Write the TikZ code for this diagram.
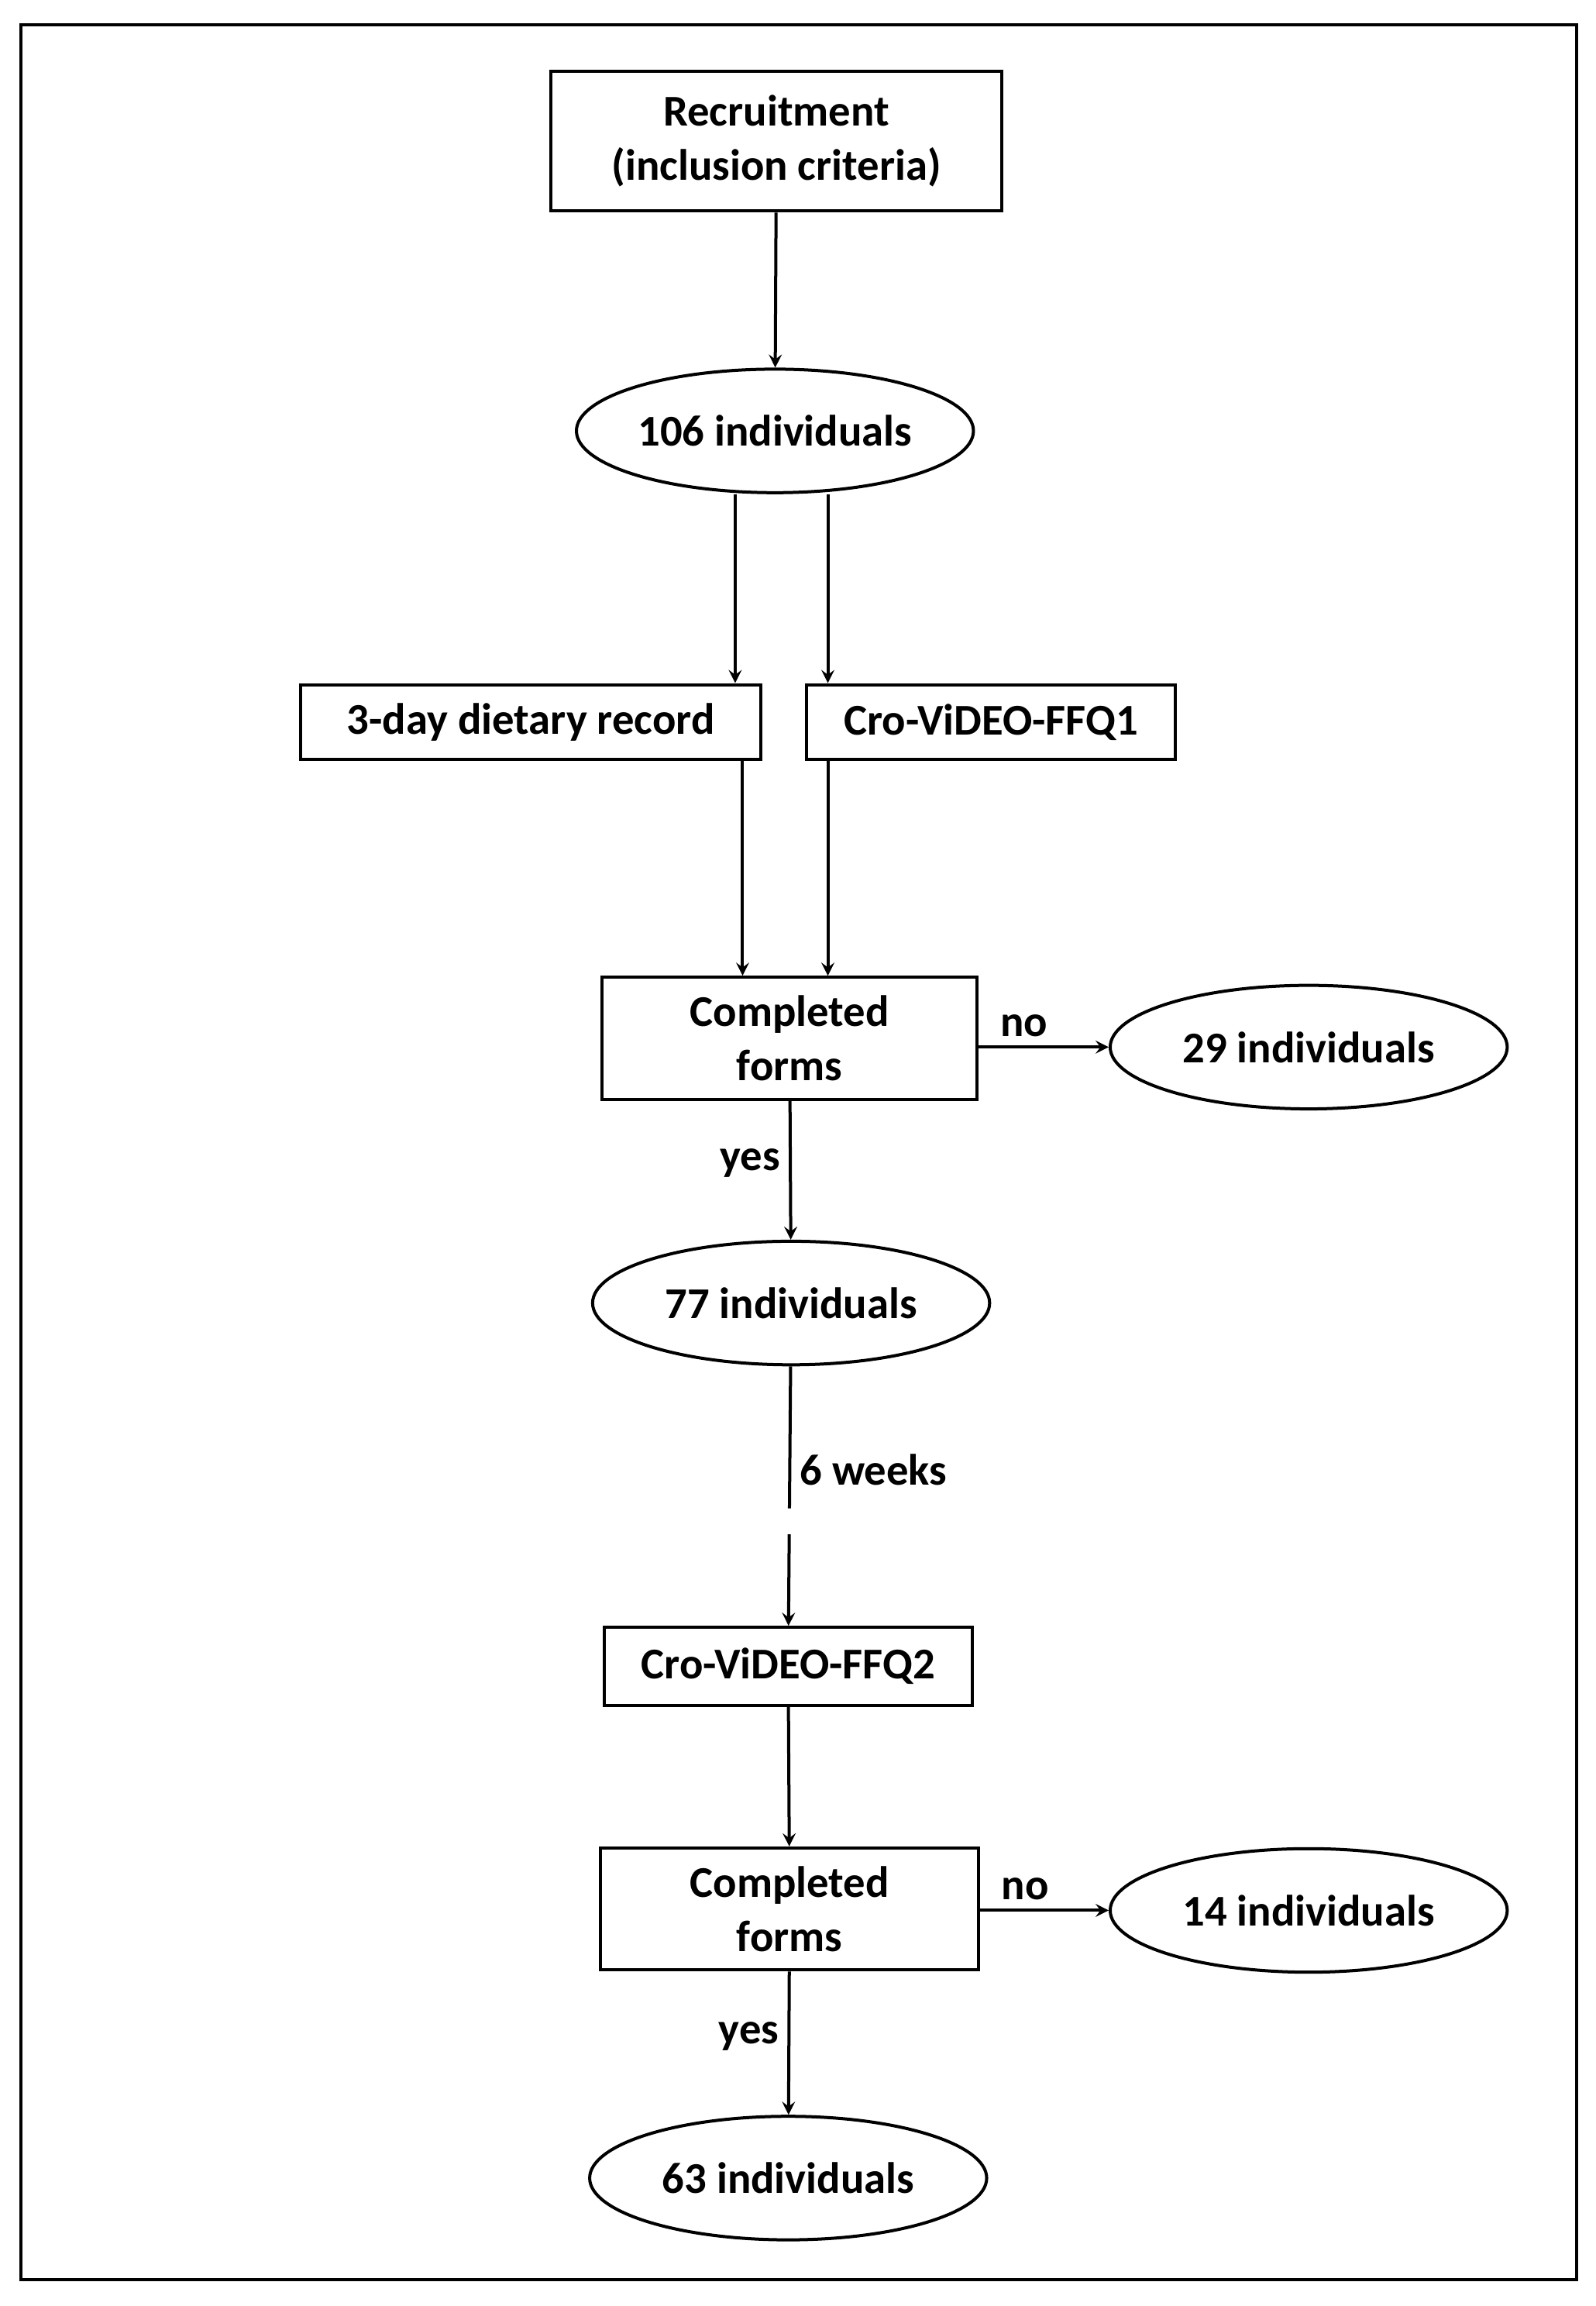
\documentclass[tikz,border=0pt]{standalone}
\usepackage{fontspec}
\setmainfont{Carlito}
\usetikzlibrary{shapes.geometric}
\begin{document}
\begin{tikzpicture}[x=0.02cm, y=-0.02cm, font=\fontsize{17}{21}\selectfont\bfseries]

\useasboundingbox (0,0) rectangle (1085,1568);
\draw[very thick] (14,17) rectangle (1072,1550);

\tikzset{box/.style={draw, very thick, rectangle, align=center, inner sep=0pt}}
\tikzset{oval/.style={draw, very thick, ellipse, minimum width=270*0.02cm, minimum height=84*0.02cm, inner sep=0pt}}
\node[box, minimum width=307*0.02cm, minimum height=95*0.02cm] (recr) at (528,96) {Recruitment\\(inclusion criteria)};
\node[oval] (i106) at (527,293) {106 individuals};
\node[box, minimum width=313*0.02cm, minimum height=51*0.02cm] (rec) at (361,491) {3-day dietary record};
\node[box, minimum width=251*0.02cm, minimum height=51*0.02cm] (ffq1) at (674,491) {Cro-ViDEO-FFQ1};
\node[box, minimum width=255*0.02cm, minimum height=83*0.02cm] (comp1) at (537,706) {Completed\\forms};
\node[oval] (i29) at (890,712) {29 individuals};
\node[oval] (i77) at (538,886) {77 individuals};
\node[box, minimum width=250*0.02cm, minimum height=53*0.02cm] (ffq2) at (536,1133) {Cro-ViDEO-FFQ2};
\node[box, minimum width=257*0.02cm, minimum height=83*0.02cm] (comp2) at (537,1298) {Completed\\forms};
\node[oval] (i14) at (890,1299) {14 individuals};
\node[oval] (i63) at (536,1481) {63 individuals};

\coordinate (a1) at (500,0);
\coordinate (a2) at (563,0);
\coordinate (b1) at (505,0);

\tikzset{mystyle/.style={->, >=stealth, very thick}}
\path (recr) edge [mystyle] (i106);
\draw[mystyle] (i106.south -| a1) -- (rec.north -| a1);
\draw[mystyle] (i106.south -| a2) -- (ffq1.north -| a2);
\draw[mystyle] (rec.south -| b1) -- (comp1.north -| b1);
\draw[mystyle] (ffq1.south -| a2) -- (comp1.north -| a2);
\draw[mystyle] (comp1.east |- i29) -- node[above, pos=0.35] {no} (i29.west);
\path (comp1) edge [mystyle] node[left, pos=0.45] {yes} (i77);
\draw[mystyle, dash pattern=on 55pt off 10pt] (i77) -- node[right, pos=0.4] {6 weeks} (ffq2);
\path (ffq2) edge [mystyle] (comp2);
\draw[mystyle] (comp2.east |- i14) -- node[above, pos=0.35] {no} (i14.west);
\path (comp2) edge [mystyle] node[left, pos=0.45] {yes} (i63);
\end{tikzpicture}
\end{document}
